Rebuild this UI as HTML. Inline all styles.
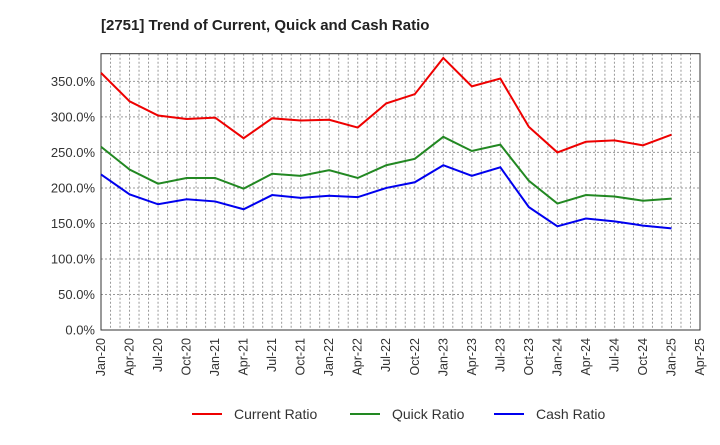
<!DOCTYPE html>
<html><head><meta charset="utf-8"><style>
body{margin:0;background:#fff;font-family:"Liberation Sans",sans-serif}
</style></head><body>
<svg id="chart" width="720" height="440" xmlns="http://www.w3.org/2000/svg" font-family="Liberation Sans, sans-serif">
<text x="101" y="30" font-size="15" font-weight="bold" fill="#222">[2751]  Trend of Current, Quick and Cash Ratio</text>
<g id="grid"></g><g id="axes"></g><g id="series"></g>
<g font-size="14" fill="#333">
<line x1="192" y1="414" x2="222" y2="414" stroke="#ee0000" stroke-width="2"/><text x="234" y="419">Current Ratio</text>
<line x1="350" y1="414" x2="380" y2="414" stroke="#228822" stroke-width="2"/><text x="392" y="419">Quick Ratio</text>
<line x1="494" y1="414" x2="524" y2="414" stroke="#0000ee" stroke-width="2"/><text x="536" y="419">Cash Ratio</text>
</g>
</svg>
<script>
const xLabels=["Jan-20","Apr-20","Jul-20","Oct-20","Jan-21","Apr-21","Jul-21","Oct-21","Jan-22","Apr-22","Jul-22","Oct-22","Jan-23","Apr-23","Jul-23","Oct-23","Jan-24","Apr-24","Jul-24","Oct-24","Jan-25","Apr-25"];
const yTicks=[0,50,100,150,200,250,300,350];
const current=[362,322,302,297,299,270,298,295,296,285,319,332,383,343,354,286,250,265,267,260,275];
const quick=[258,226,206,214,214,199,220,217,225,214,232,241,272,252,261,210,178,190,188,182,185];
const cash=[219,191,177,184,181,170,190,186,189,187,200,208,232,217,229,173,146,157,153,147,143];
const L=101,R=700,T=53.7,B=330,yMax=389;
const xs=i=>L+i*(R-L)/21;
const ys=v=>B-v*(B-T)/yMax;
const NS="http://www.w3.org/2000/svg";
function mk(t,a,p){const e=document.createElementNS(NS,t);for(const k in a)e.setAttribute(k,a[k]);p.appendChild(e);return e;}
const grid=document.getElementById('grid'),axes=document.getElementById('axes'),ser=document.getElementById('series');
for(let m=1;m<63;m++){const x=L+m*(R-L)/63;const l=mk('line',{x1:x,y1:T,x2:x,y2:B,stroke:'#999','stroke-dasharray':'2,2','stroke-width':1},grid);
}
yTicks.forEach(v=>{const y=ys(v);if(v>0){const l=mk('line',{x1:L,y1:y,x2:R,y2:y,stroke:'#999','stroke-dasharray':'2,2'},grid);
}
const t=mk('text',{x:L-6,y:y+4.5,'text-anchor':'end','font-size':13,fill:'#333'},axes);t.textContent=v.toFixed(1)+'%';
});
const fr=mk('rect',{x:L,y:T,width:R-L,height:B-T,fill:'none',stroke:'#333'},axes);

xLabels.forEach((s,i)=>{const x=xs(i);const t=mk('text',{x:x,y:B+8,'text-anchor':'end','font-size':12.5,fill:'#333',transform:`rotate(-90 ${x} ${B+8}) translate(0 4)`},axes);t.textContent=s;
});
[[current,'#ee0000','current-ratio-line'],[quick,'#228822','quick-ratio-line'],[cash,'#0000ee','cash-ratio-line']].forEach(([d,c,n])=>{
const p=mk('polyline',{points:d.map((v,i)=>xs(i)+','+ys(v)).join(' '),fill:'none',stroke:c,'stroke-width':2},ser);
});
</script>
</body></html>
